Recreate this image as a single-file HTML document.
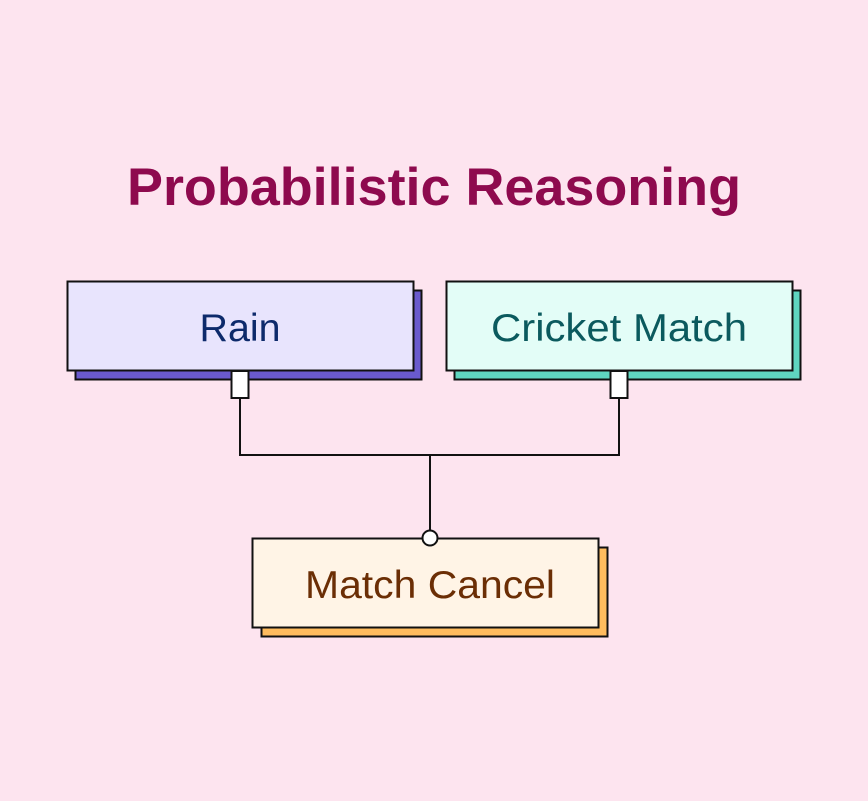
<!DOCTYPE html>
<html><head><meta charset="utf-8"><style>
html,body{margin:0;padding:0;background:#fde4ef;}
svg{display:block;}
text{font-family:"Liberation Sans","DejaVu Sans",sans-serif;}
</style></head><body>
<svg width="868" height="801" viewBox="0 0 868 801" xmlns="http://www.w3.org/2000/svg">
<rect width="868" height="801" fill="#fde4ef"/>
<text x="434" y="205" text-anchor="middle" font-size="53" font-weight="bold" fill="#8e0a4e" textLength="614" lengthAdjust="spacingAndGlyphs">Probabilistic Reasoning</text>

<polyline points="240,398 240,455 619,455 619,398" fill="none" stroke="#111" stroke-width="2"/>
<line x1="430" y1="455" x2="430" y2="531" stroke="#111" stroke-width="2"/>

<rect x="75.5" y="290.5" width="346" height="89" fill="#6a5acd" stroke="#111" stroke-width="2"/>
<rect x="67.5" y="281.5" width="346" height="89" fill="#e8e4fd" stroke="#111" stroke-width="2"/>
<text x="240" y="341" text-anchor="middle" font-size="39" fill="#0d2a6b" textLength="81" lengthAdjust="spacingAndGlyphs">Rain</text>
<rect x="231.5" y="371" width="17" height="27" fill="#fff" stroke="#111" stroke-width="2"/>

<rect x="454.5" y="290.5" width="346" height="89" fill="#5fd6c0" stroke="#111" stroke-width="2"/>
<rect x="446.5" y="281.5" width="346" height="89" fill="#e3fdf7" stroke="#111" stroke-width="2"/>
<text x="619" y="341" text-anchor="middle" font-size="39" fill="#0b5a5e" textLength="256" lengthAdjust="spacingAndGlyphs">Cricket Match</text>
<rect x="610.5" y="371" width="17" height="27" fill="#fff" stroke="#111" stroke-width="2"/>

<rect x="261.5" y="547.5" width="346" height="89" fill="#ffbc5e" stroke="#111" stroke-width="2"/>
<rect x="252.5" y="538.5" width="346" height="89" fill="#fff4e6" stroke="#111" stroke-width="2"/>
<text x="430" y="598" text-anchor="middle" font-size="39" fill="#6b2e05" textLength="250" lengthAdjust="spacingAndGlyphs">Match Cancel</text>
<circle cx="430" cy="538" r="7.5" fill="#fff" stroke="#111" stroke-width="2"/>
</svg>
</body></html>
